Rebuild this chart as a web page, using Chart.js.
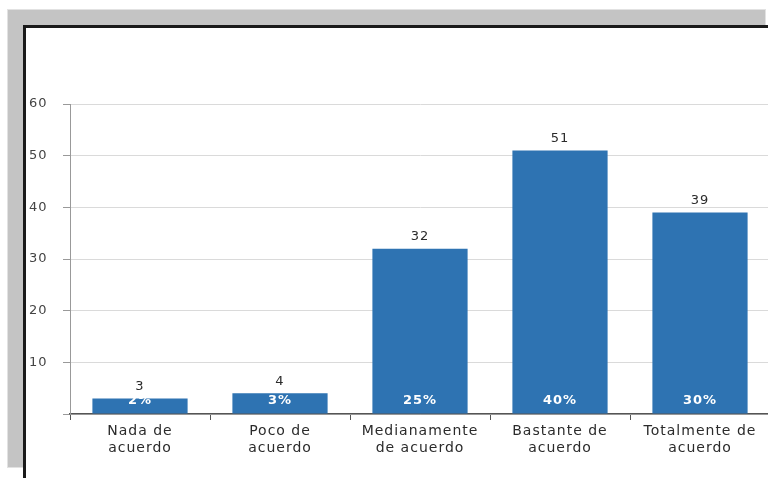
<!DOCTYPE html>
<html>
<head>
<meta charset="utf-8">
<script src="https://cdn.jsdelivr.net/npm/chart.js@4"></script>
<style>
    html, body { margin: 0; background: #fff; overflow: hidden; }
    #wrap { position: relative; width: 768px; height: 478px; overflow: hidden; }
    #frame { position: absolute; left: 7px; top: 9px; width: 757px; height: 457px; background: #c4c4c4; border: 1px solid #e2e2e2; }
    #inner { position: absolute; left: 23px; top: 25px; width: 760px; height: 470px; background: #fff; border-top: 3px solid #1a1a1a; border-left: 3px solid #1a1a1a; }
    #chart { position: absolute; left: 0; top: 0; }
</style>
</head>
<body>
<div id="wrap">
<div id="frame"></div>
<div id="inner"></div>
<canvas id="chart" width="790" height="478"></canvas>
</div>
<script>
var categories = [
    ['Nada de', 'acuerdo'],
    ['Poco de', 'acuerdo'],
    ['Medianamente', 'de acuerdo'],
    ['Bastante de', 'acuerdo'],
    ['Totalmente de', 'acuerdo']
];
var counts = [3, 4, 32, 51, 39];
var percentLabels = ['2%', '3%', '25%', '40%', '30%'];
var yTicks = [0, 10, 20, 30, 40, 50, 60];

var textCol = '#2b2b2b';
var barCol = '#2e73b2';

// numbers above the bars and percentages inside them
var barLabels = {
    id: 'barLabels',
    beforeDraw: function(chart) {
        chart.ctx.letterSpacing = '1px';
    },
    afterDatasetsDraw: function(chart) {
        var ctx = chart.ctx;
        var meta = chart.getDatasetMeta(0);
        var base = chart.scales.y.getPixelForValue(0);
        ctx.save();
        ctx.textAlign = 'center';
        ctx.textBaseline = 'middle';
        meta.data.forEach(function(bar, i) {
            ctx.fillStyle = textCol;
            ctx.font = '13px "DejaVu Sans"';
            ctx.fillText(String(counts[i]), bar.x, bar.y - 12);
            ctx.fillStyle = '#fff';
            ctx.font = 'bold 13px "DejaVu Sans"';
            ctx.fillText(percentLabels[i], bar.x, base - 13);
        });
        ctx.restore();
    }
};

new Chart(document.getElementById('chart'), {
    type: 'bar',
    data: {
        labels: categories,
        datasets: [{
            data: counts,
            backgroundColor: barCol,
            borderWidth: 0,
            categoryPercentage: 1,
            barPercentage: 0.68
        }]
    },
    options: {
        responsive: false,
        animation: false,
        layout: { padding: { left: 29, right: 20, top: 104, bottom: 0 } },
        plugins: { legend: { display: false }, tooltip: { enabled: false } },
        scales: {
            x: {
                afterFit: function(scale) { scale.height = 64; },
                grid: { offset: true, drawOnChartArea: false, tickLength: 6, tickColor: '#555' },
                border: { color: '#555', width: 1.5 },
                ticks: {
                    color: textCol,
                    padding: 3,
                    maxRotation: 0,
                    font: { family: 'DejaVu Sans', size: 14, lineHeight: 1.2 }
                }
            },
            y: {
                min: 0,
                max: 60,
                afterFit: function(scale) { scale.width = 41; },
                afterBuildTicks: function(scale) {
                    scale.ticks = yTicks.map(function(v) { return { value: v }; });
                },
                grid: { color: '#dadada', tickLength: 7, tickColor: '#999' },
                border: { color: '#999' },
                ticks: {
                    color: '#444',
                    crossAlign: 'far',
                    font: { family: 'DejaVu Sans', size: 13 },
                    callback: function(v) { return v === 0 ? '' : v; }
                }
            }
        }
    },
    plugins: [barLabels]
});
</script>
</body>
</html>
